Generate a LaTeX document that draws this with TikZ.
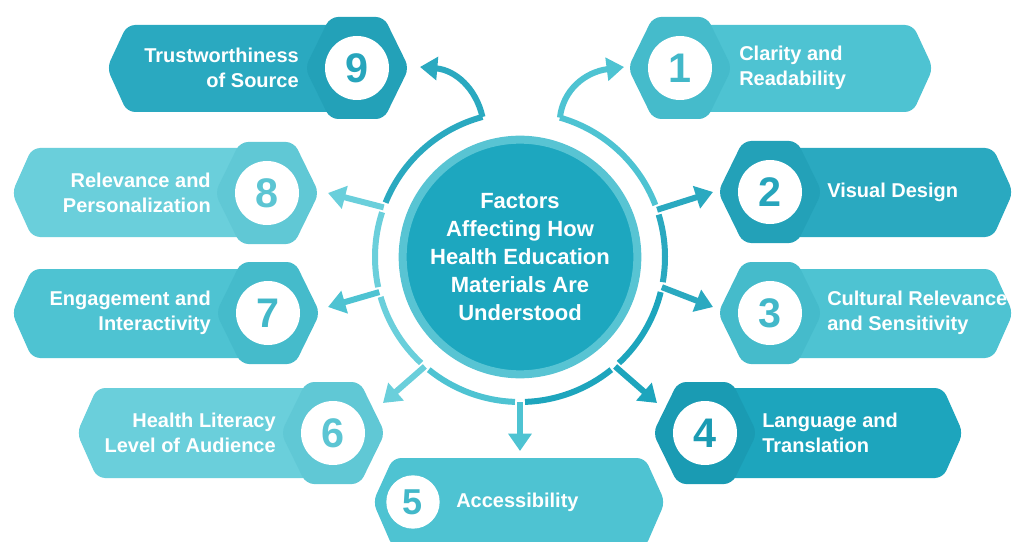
\documentclass[tikz,border=0pt]{standalone}
\usepackage{fontspec}
\setmainfont{Liberation Sans}
\usetikzlibrary{arrows.meta}

\definecolor{hubfill}{HTML}{1DA7BF}
\definecolor{hubrim}{HTML}{58C4D3}
\definecolor{darkbar}{HTML}{2AA9C0}
\definecolor{darkhex}{HTML}{23A1B8}
\definecolor{deepbar}{HTML}{1DA5BD}
\definecolor{deephex}{HTML}{1A9BB3}
\definecolor{midbar}{HTML}{4EC3D2}
\definecolor{midhex}{HTML}{45BBCB}
\definecolor{lightbar}{HTML}{6ACFDB}
\definecolor{lighthex}{HTML}{60C8D5}
\definecolor{darknum}{HTML}{27A5BC}
\definecolor{midnum}{HTML}{42B8C9}
\definecolor{lightnum}{HTML}{5CC5D3}

\tikzset{
    bar/.style={rounded corners=6pt},
    badge/.style={rounded corners=6pt},
    numdisc/.style={circle, fill=white, minimum size=48pt, inner sep=0pt,
        font=\fontsize{31}{31}\selectfont\bfseries},
    lbl/.style={text=white, inner sep=0pt, font=\fontsize{15}{19}\selectfont\bfseries},
    hub/.style={circle, fill=hubfill, draw=hubrim, line width=6pt, minimum size=176pt,
        inner sep=0pt, text=white, align=center, font=\fontsize{16.5}{21}\selectfont\bfseries},
    ring/.style={line width=4.5pt},
    flow/.style={line width=4.5pt, -{Triangle[length=13pt,width=17pt]}},
}

\begin{document}
\begin{tikzpicture}[x=0.75pt, y=-0.75pt]
    \fill[white] (0,0) rectangle (1015,542);
    \useasboundingbox (0,0) rectangle (1015,542);
    \clip (0,0) rectangle (1015,542);

    % ring round the hub
    \coordinate (hubc) at (520,257);
    \draw[ring, darkbar] ([shift={(255:145)}]hubc) arc[start angle=255, end angle=202, radius=145];
    \draw[ring, lightbar] ([shift={(198:145)}]hubc) arc[start angle=198, end angle=168, radius=145];
    \draw[ring, lightbar] ([shift={(164:145)}]hubc) arc[start angle=164, end angle=133, radius=145];
    \draw[ring, midbar] ([shift={(129:145)}]hubc) arc[start angle=129, end angle=92, radius=145];
    \draw[ring, deepbar] ([shift={(88:145)}]hubc) arc[start angle=88, end angle=51, radius=145];
    \draw[ring, deepbar] ([shift={(47:145)}]hubc) arc[start angle=47, end angle=14, radius=145];
    \draw[ring, darkbar] ([shift={(10:145)}]hubc) arc[start angle=10, end angle=-17, radius=145];
    \draw[ring, midbar] ([shift={(-21:145)}]hubc) arc[start angle=-21, end angle=-74, radius=145];

    \node[hub] (hub) at (hubc) {Factors\\Affecting How\\Health Education\\Materials Are\\Understood};

    % 9
    \fill[darkbar, bar] (107,68) -- (127,25) -- (357,25) -- (357,112) -- (127,112) -- cycle;
    \fill[darkhex, badge] (305,68) -- (330,17) -- (384,17) -- (409,68) -- (384,119) -- (330,119) -- cycle;
    \node[numdisc, text=darknum] (n9) at (357,68) {9};
    \node[lbl, anchor=east, align=right] (t9) at (299,68) {Trustworthiness\\of Source};

    % 1
    \fill[midbar, bar] (680,25) -- (913,25) -- (933,68) -- (913,112) -- (680,112) -- cycle;
    \fill[midhex, badge] (628,68) -- (653,17) -- (707,17) -- (732,68) -- (707,119) -- (653,119) -- cycle;
    \node[numdisc, text=midnum] (n1) at (680,68) {1};
    \node[lbl, anchor=west, align=left] (t1) at (739,68) {Clarity and\\Readability};

    % 2
    \fill[darkbar, bar] (770,148) -- (993,148) -- (1013,192) -- (993,237) -- (770,237) -- cycle;
    \fill[darkhex, badge] (718,192) -- (743,141) -- (797,141) -- (822,192) -- (797,243) -- (743,243) -- cycle;
    \node[numdisc, text=darknum] (n2) at (770,192) {2};
    \node[lbl, anchor=west] (t2) at (827,192) {Visual Design};

    % 3
    \fill[midbar, bar] (770,269) -- (993,269) -- (1013,313) -- (993,358) -- (770,358) -- cycle;
    \fill[midhex, badge] (718,313) -- (743,262) -- (797,262) -- (822,313) -- (797,364) -- (743,364) -- cycle;
    \node[numdisc, text=midnum] (n3) at (770,313) {3};
    \node[lbl, anchor=west, align=left] (t3) at (827,313) {Cultural Relevance\\and Sensitivity};

    % 4
    \fill[deepbar, bar] (705,388) -- (943,388) -- (963,433) -- (943,478) -- (705,478) -- cycle;
    \fill[deephex, badge] (653,433) -- (678,382) -- (732,382) -- (757,433) -- (732,484) -- (678,484) -- cycle;
    \node[numdisc, text=deephex] (n4) at (705,433) {4};
    \node[lbl, anchor=west, align=left] (t4) at (762,433) {Language and\\Translation};

    % 5
    \fill[midbar, bar] (373,502) -- (393,458) -- (645,458) -- (665,502) -- (645,548) -- (393,548) -- cycle;
    \node[numdisc, text=midnum, minimum size=40pt, font=\fontsize{27}{27}\selectfont\bfseries] (n5) at (413,502) {5};
    \node[lbl, anchor=west] (t5) at (456,502) {Accessibility};

    % 6
    \fill[lightbar, bar] (77,433) -- (97,388) -- (333,388) -- (333,478) -- (97,478) -- cycle;
    \fill[lighthex, badge] (281,433) -- (306,382) -- (360,382) -- (385,433) -- (360,484) -- (306,484) -- cycle;
    \node[numdisc, text=lightnum] (n6) at (333,433) {6};
    \node[lbl, anchor=east, align=right] (t6) at (276,433) {Health Literacy\\Level of Audience};

    % 7
    \fill[midbar, bar] (12,313) -- (32,269) -- (268,269) -- (268,358) -- (32,358) -- cycle;
    \fill[midhex, badge] (216,313) -- (241,262) -- (295,262) -- (320,313) -- (295,364) -- (241,364) -- cycle;
    \node[numdisc, text=midnum] (n7) at (268,313) {7};
    \node[lbl, anchor=east, align=right] (t7) at (211,313) {Engagement and\\Interactivity};

    % 8
    \fill[lightbar, bar] (12,193) -- (32,148) -- (267,148) -- (267,237) -- (32,237) -- cycle;
    \fill[lighthex, badge] (215,193) -- (240,142) -- (294,142) -- (319,193) -- (294,244) -- (240,244) -- cycle;
    \node[numdisc, text=lightnum] (n8) at (267,193) {8};
    \node[lbl, anchor=east, align=right] (t8) at (211,193) {Relevance and\\Personalization};

    % arrows out of the ring
    \coordinate (r1) at ([shift={(-74:145)}]hubc);
    \coordinate (r2) at ([shift={(-19:145)}]hubc);
    \coordinate (r3) at ([shift={(12:145)}]hubc);
    \coordinate (r4) at ([shift={(49:145)}]hubc);
    \coordinate (r5) at ([shift={(90:145)}]hubc);
    \coordinate (r6) at ([shift={(131:145)}]hubc);
    \coordinate (r7) at ([shift={(166:145)}]hubc);
    \coordinate (r8) at ([shift={(200:145)}]hubc);
    \coordinate (r9) at ([shift={(255:145)}]hubc);
    \coordinate (e1) at (624,67);
    \coordinate (e2) at (713,192);
    \coordinate (e3) at (713,307);
    \coordinate (e4) at (657,403);
    \coordinate (e5) at (520,451);
    \coordinate (e6) at (383,403);
    \coordinate (e7) at (328,307);
    \coordinate (e8) at (328,193);
    \coordinate (e9) at (420,67);

    \draw[flow, darkbar] (r9) .. controls (476,88) and (455,70) .. (e9);
    \draw[flow, midbar] (r1) .. controls (563,90) and (585,72) .. (e1);
    \draw[flow, darkbar] (r2) -- (e2);
    \draw[flow, darkbar] (r3) -- (e3);
    \draw[flow, deepbar] (r4) -- (e4);
    \draw[flow, midbar] (r5) -- (e5);
    \draw[flow, lightbar] (r6) -- (e6);
    \draw[flow, midbar] (r7) -- (e7);
    \draw[flow, lightbar] (r8) -- (e8);
\end{tikzpicture}
\end{document}
